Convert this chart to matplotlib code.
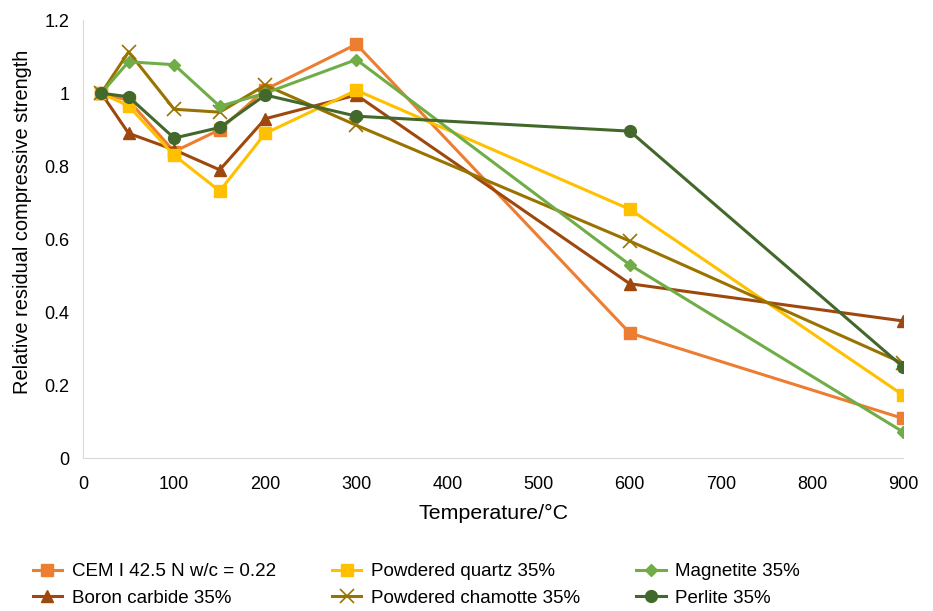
import matplotlib
matplotlib.use('Agg')
import matplotlib.pyplot as plt

plt.rcParams['font.family'] = ['Liberation Sans', 'DejaVu Sans']

temps = [20, 50, 100, 150, 200, 300, 600, 900]

cem = [1.00, 0.98, 0.84, 0.90, 1.01, 1.134, 0.343, 0.109]
boron = [1.00, 0.89, 0.845, 0.79, 0.93, 0.995, 0.478, 0.376]
quartz = [1.00, 0.965, 0.83, 0.732, 0.89, 1.008, 0.682, 0.173]
chamotte = [1.00, 1.113, 0.956, 0.948, 1.022, 0.912, 0.595, 0.26]
magnetite = [1.00, 1.086, 1.078, 0.964, 1.00, 1.092, 0.53, 0.072]
perlite = [1.00, 0.99, 0.877, 0.906, 0.995, 0.937, 0.896, 0.25]

labels = ['CEM I 42.5 N w/c = 0.22', 'Boron carbide 35%',
          'Powdered quartz 35%', 'Powdered chamotte 35%',
          'Magnetite 35%', 'Perlite 35%']

fig = plt.figure(figsize=(9.33, 6.11), dpi=100)
ax = fig.add_axes([0.089, 0.25, 0.879, 0.717])

ax.plot(temps, cem, color='#ED7D31', marker='s', markersize=9, lw=2.2, label=labels[0])
ax.plot(temps, boron, color='#9E480E', marker='^', markersize=9, lw=2.2, label=labels[1])
ax.plot(temps, quartz, color='#FFC000', marker='s', markersize=9, lw=2.2, label=labels[2])
ax.plot(temps, chamotte, color='#997300', marker='x', markersize=10, mew=1.2, lw=2.2, label=labels[3])
ax.plot(temps, magnetite, color='#70AD47', marker='D', markersize=6.5, lw=2.2, label=labels[4])
ax.plot(temps, perlite, color='#43682B', marker='o', markersize=8.5, lw=2.2, label=labels[5])

ax.set_xlim(0, 900)
ax.set_ylim(0, 1.2)
ax.set_xticks(range(0, 901, 100))
ax.set_yticks([0, 0.2, 0.4, 0.6, 0.8, 1.0, 1.2])
ax.set_yticklabels(['0', '0.2', '0.4', '0.6', '0.8', '1', '1.2'])
ax.tick_params(labelsize=13, length=0)
ax.tick_params(axis='x', pad=13)
ax.tick_params(axis='y', pad=10)

for s in ['top', 'right']:
    ax.spines[s].set_visible(False)
for s in ['left', 'bottom']:
    ax.spines[s].set_color('#D9D9D9')

ax.set_xlabel('Temperature/°C', fontsize=15.4, labelpad=8)
ax.set_ylabel('Relative residual compressive strength', fontsize=14.4)
ax.yaxis.set_label_coords(-0.062, 0.539)

fig.legend(loc='lower left', bbox_to_anchor=(0.017, -0.021), ncol=3, frameon=False,
           fontsize=13.5, columnspacing=3.0, handlelength=1.55, handletextpad=0.53,
           labelspacing=0.52)

fig.savefig('out.png', dpi=100)
